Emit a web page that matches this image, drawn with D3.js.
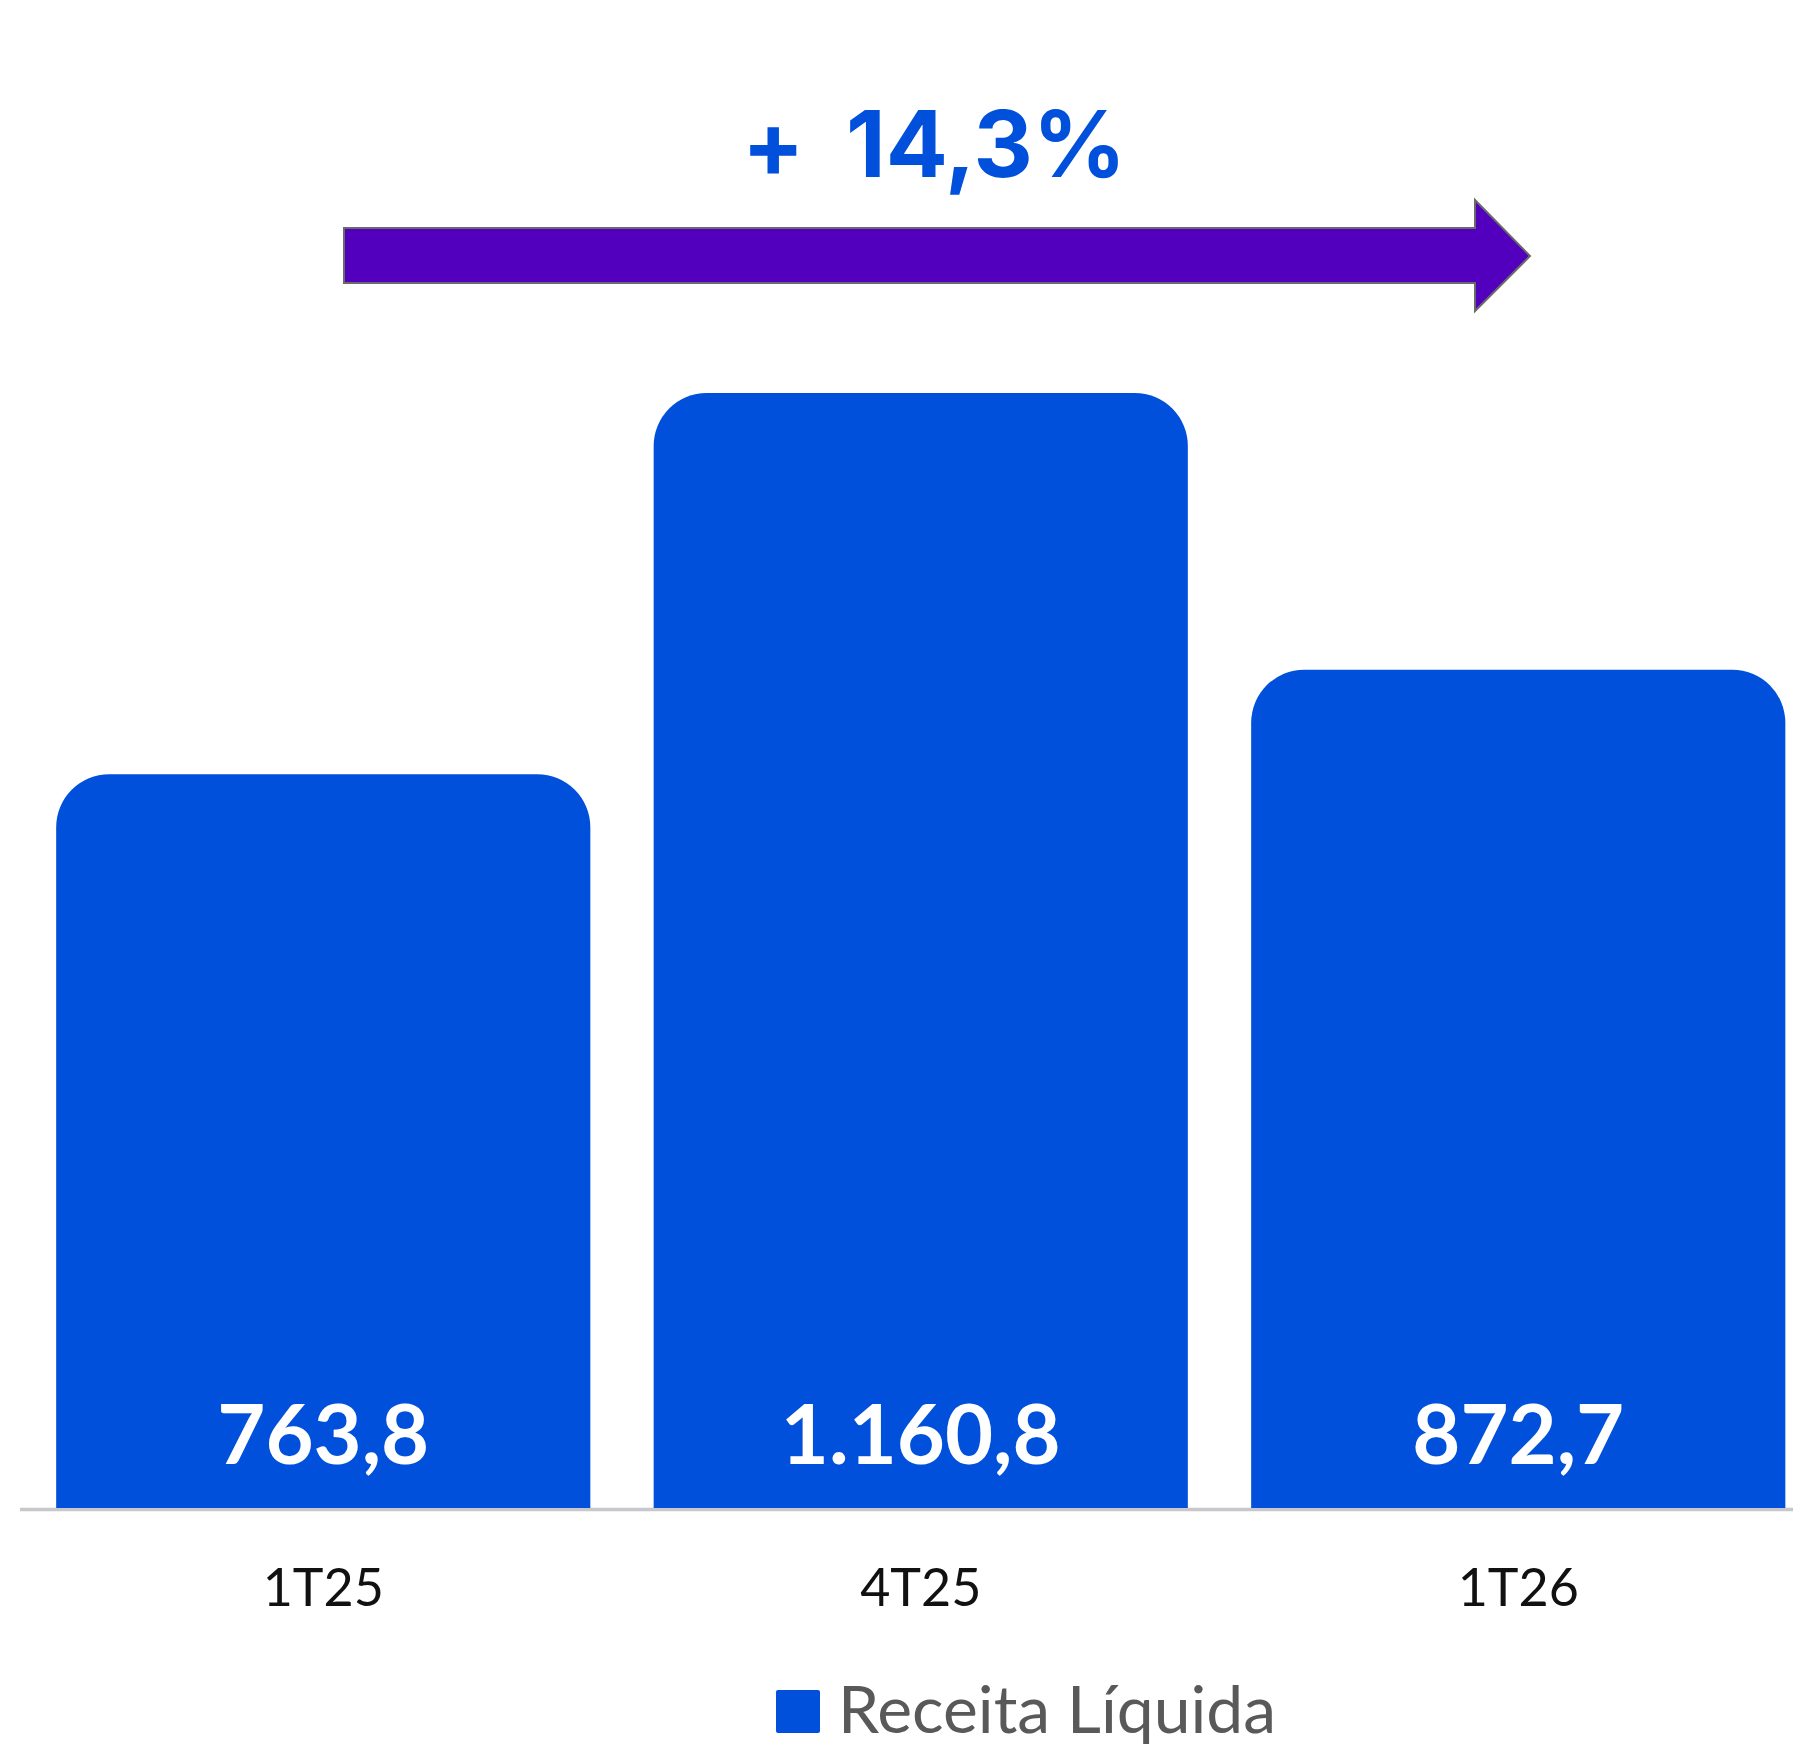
<!DOCTYPE html>
<html>
<head>
<meta charset="utf-8">
<script src="https://cdn.jsdelivr.net/npm/d3@7"></script>
<style>
  html, body { margin: 0; padding: 0; background: #ffffff; }
  svg { display: block; }
</style>
</head>
<body>
<svg id="chart" width="1793" height="1748"></svg>
<script>
const categories = ["1T25", "4T25", "1T26"];
const values = [763.8, 1160.8, 872.7];
const valueLabels = ["763,8", "1.160,8", "872,7"];
const seriesName = "Receita Líquida";
const growthPrefix = "+";
const growthLabel = "14,3%";

const W = 1793, H = 1748;
const barColor = "#0050DC";
const svg = d3.select("#chart");

const x = d3.scaleBand()
  .domain(categories)
  .range([24.5, 24.5 + 3 * 597.5])
  .paddingInner(0.106)
  .paddingOuter(0.053);

const y = d3.scaleLinear()
  .domain([0, 1160.8])
  .range([1508, 393]);

// rounded-top bar path (circular arcs)
function barPath(x0, w, yTop, yBase, r) {
  r = Math.min(r, w / 2, (yBase - yTop));
  return `M${x0},${yBase} L${x0},${yTop + r} A${r},${r} 0 0 1 ${x0 + r},${yTop} ` +
         `L${x0 + w - r},${yTop} A${r},${r} 0 0 1 ${x0 + w},${yTop + r} L${x0 + w},${yBase} Z`;
}

// axis baseline
svg.append("line")
  .attr("x1", 20).attr("x2", W)
  .attr("y1", y(0) + 1.5).attr("y2", y(0) + 1.5)
  .attr("stroke", "#c8c8cc").attr("stroke-width", 3.5);

// bars
svg.selectAll("path.bar")
  .data(values)
  .join("path")
  .attr("class", "bar")
  .attr("d", (d, i) => barPath(x(categories[i]), x.bandwidth(), y(d), y(0), 53))
  .attr("fill", barColor);

// value labels
svg.selectAll("text.val")
  .data(values)
  .join("text")
  .attr("class", "val")
  .attr("x", (d, i) => x(categories[i]) + x.bandwidth() / 2)
  .attr("y", y(0) - 44)
  .attr("text-anchor", "middle")
  .attr("font-family", "Lato, 'Open Sans', sans-serif")
  .attr("font-weight", 700)
  .attr("font-size", 83)
  .attr("fill", "#ffffff")
  .text((d, i) => valueLabels[i]);

// category axis
const xAxis = d3.axisBottom(x).tickSize(0).tickPadding(0);
const gx = svg.append("g").attr("transform", `translate(0, ${y(0)})`).call(xAxis);
gx.select(".domain").remove();
gx.selectAll("text")
  .attr("dy", 0)
  .attr("y", 98)
  .attr("font-family", "Lato, 'Open Sans', sans-serif")
  .attr("font-size", 52)
  .attr("fill", "#111111");

// arrow
const arrow = [
  [344, 228], [1475, 228], [1475, 200], [1530, 256],
  [1475, 311], [1475, 283], [344, 283]
];
svg.append("path")
  .attr("d", d3.line()(arrow) + "Z")
  .attr("fill", "#5200BE")
  .attr("stroke", "#6a6a6a")
  .attr("stroke-width", 2);

// growth label
svg.append("text")
  .attr("x", 742).attr("y", 177)
  .attr("font-family", "Inter, 'Liberation Sans', Arial, sans-serif")
  .attr("font-weight", 700)
  .attr("font-size", 92)
  .attr("fill", barColor)
  .text(growthPrefix);
svg.append("text")
  .attr("x", 846).attr("y", 177)
  .attr("font-family", "Inter, 'Liberation Sans', Arial, sans-serif")
  .attr("font-weight", 700)
  .attr("font-size", 92)
  .attr("fill", barColor)
  .text(growthLabel);

// legend
svg.append("rect")
  .attr("x", 776).attr("y", 1690)
  .attr("width", 44).attr("height", 43)
  .attr("rx", 2)
  .attr("fill", barColor);
svg.append("text")
  .attr("x", 838).attr("y", 1733)
  .attr("font-family", "Lato, 'Open Sans', sans-serif")
  .attr("font-size", 66)
  .attr("fill", "#595959")
  .text(seriesName);
</script>
</body>
</html>
